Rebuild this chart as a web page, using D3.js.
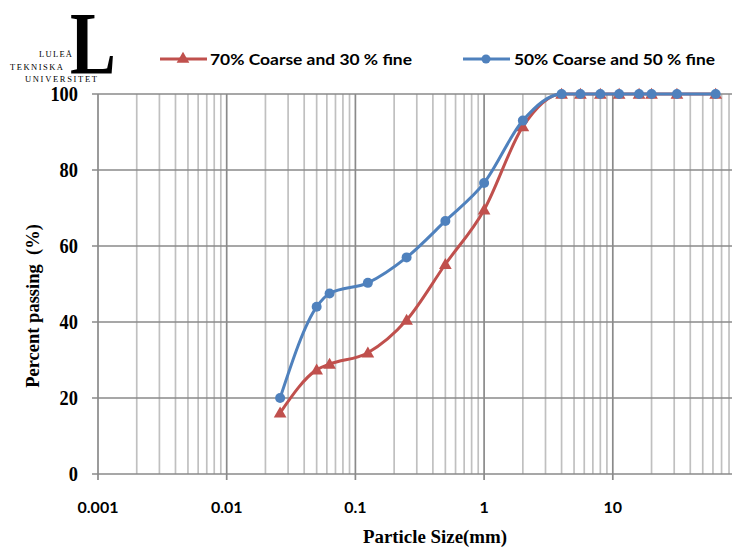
<!DOCTYPE html>
<html>
<head>
<meta charset="utf-8">
<script src="https://cdn.jsdelivr.net/npm/d3@7"></script>
<style>
  body { margin: 0; background: #fff; }
  svg { display: block; }
</style>
</head>
<body>
<script>
// sieve sizes (mm) and percent passing for the two blends
var sizes = [0.026, 0.05, 0.063, 0.125, 0.25, 0.5, 1, 2, 4, 5.6, 8, 11.2, 16, 20, 31.5, 63];
var coarse70 = [16.1, 27.4, 28.9, 31.9, 40.5, 55.2, 69.5, 91.4, 100, 100, 100, 100, 100, 100, 100, 100];
var coarse50 = [20, 44, 47.5, 50.3, 57.0, 66.6, 76.6, 93.0, 100, 100, 100, 100, 100, 100, 100, 100];
var seriesNames = ["70% Coarse and 30 % fine", "50% Coarse and 50 % fine"];
var xTicks = [0.001, 0.01, 0.1, 1, 10];
var xTickLabels = ["0.001", "0.01", "0.1", "1", "10"];
var yTicks = [0, 20, 40, 60, 80, 100];

var W = 732, H = 547;
var red = "#C0504D", blue = "#4F81BD";

var svg = d3.select("body").append("svg")
    .attr("width", W)
    .attr("height", H);

var x = d3.scaleLog().domain([0.001, 100]).range([98, 741.5]);
var y = d3.scaleLinear().domain([0, 100]).range([474, 94]);

//minor grid lines, 2..9 within each decade
var minor = [];
for (var d = 0.001; d < 100; d *= 10)
    for (var m = 2; m <= 9; m++)
        minor.push(+(d * m).toPrecision(3));

var grid = svg.append("g");
grid.selectAll("line.minor")
    .data(minor)
    .enter().append("line")
    .attr("x1", function(v){return x(v);})
    .attr("x2", function(v){return x(v);})
    .attr("y1", y(100))
    .attr("y2", y(0))
    .style("stroke", "#c0c0c0")
    .style("stroke-width", 1.7);

grid.selectAll("line.major")
    .data(xTicks)
    .enter().append("line")
    .attr("x1", function(v){return x(v);})
    .attr("x2", function(v){return x(v);})
    .attr("y1", y(100))
    .attr("y2", y(0) + 6)
    .style("stroke", "#8a8a8a")
    .style("stroke-width", 1.7);

grid.selectAll("line.h")
    .data(yTicks)
    .enter().append("line")
    .attr("x1", x(0.001) - 6)
    .attr("x2", W)
    .attr("y1", function(v){return y(v);})
    .attr("y2", function(v){return y(v);})
    .style("stroke", "#8a8a8a")
    .style("stroke-width", 1.7);

//y tick labels
svg.selectAll("text.ylab")
    .data(yTicks)
    .enter().append("text")
    .attr("x", 78)
    .attr("y", function(v){return y(v);})
    .attr("dy", "0.35em")
    .attr("text-anchor", "end")
    .style("font-family", "'Liberation Serif', serif")
    .style("font-weight", "bold")
    .style("font-size", "20px")
    .attr("transform", function(v){return "translate(78," + y(v) + ") scale(0.92,1) translate(-78," + (-y(v)) + ")";})
    .text(function(v){return v;});

//x tick labels
svg.selectAll("text.xlab")
    .data(xTicks)
    .enter().append("text")
    .attr("x", function(v){return x(v);})
    .attr("y", 513)
    .attr("text-anchor", "middle")
    .style("font-family", "Lato, sans-serif")
    .style("font-weight", "bold")
    .style("font-size", "16px")
    .text(function(v, i){return xTickLabels[i];});

//axis titles
svg.append("text")
    .attr("x", 435)
    .attr("y", 543)
    .attr("text-anchor", "middle")
    .style("font-family", "'Liberation Serif', serif")
    .style("font-weight", "bold")
    .style("font-size", "18.5px")
    .attr("textLength", 144)
    .attr("lengthAdjust", "spacingAndGlyphs")
    .text("Particle Size(mm)");

svg.append("text")
    .attr("transform", "translate(39,306) rotate(-90)")
    .attr("text-anchor", "middle")
    .style("font-family", "'Liberation Serif', serif")
    .style("font-weight", "bold")
    .style("font-size", "18.5px")
    .style("white-space", "pre")
    .text("Percent passing  (%)");

//series lines
var line = d3.line()
    .x(function(d){return x(d[0]);})
    .y(function(d){return y(d[1]);})
    .curve(d3.curveMonotoneX);

var redPts = sizes.map(function(s, i){return [s, coarse70[i]];});
var bluePts = sizes.map(function(s, i){return [s, coarse50[i]];});

var tri = d3.symbol().type(d3.symbolTriangle).size(70);

svg.append("path")
    .attr("d", line(redPts))
    .style("fill", "none")
    .style("stroke", red)
    .style("stroke-width", 3);

svg.selectAll("path.tri")
    .data(redPts)
    .enter().append("path")
    .attr("d", tri)
    .attr("transform", function(d){return "translate(" + x(d[0]) + "," + (y(d[1]) + 1) + ")";})
    .style("fill", red);

svg.append("path")
    .attr("d", line(bluePts))
    .style("fill", "none")
    .style("stroke", blue)
    .style("stroke-width", 3);

svg.selectAll("circle.dot")
    .data(bluePts)
    .enter().append("circle")
    .attr("cx", function(d){return x(d[0]);})
    .attr("cy", function(d){return y(d[1]);})
    .attr("r", 5)
    .style("fill", blue);

//legend
var leg = svg.append("g");
leg.append("line").attr("x1", 160).attr("x2", 207).attr("y1", 59).attr("y2", 59)
    .style("stroke", red).style("stroke-width", 3);
leg.append("path").attr("d", tri).attr("transform", "translate(183,59)").style("fill", red);
leg.append("text").attr("x", 210).attr("y", 65)
    .style("font-family", "Lato, sans-serif").style("font-weight", "bold").style("font-size", "16px")
    .attr("textLength", 202).attr("lengthAdjust", "spacingAndGlyphs")
    .text(seriesNames[0]);

leg.append("line").attr("x1", 463).attr("x2", 510).attr("y1", 59).attr("y2", 59)
    .style("stroke", blue).style("stroke-width", 3);
leg.append("circle").attr("cx", 486).attr("cy", 59).attr("r", 4.5).style("fill", blue);
leg.append("text").attr("x", 514).attr("y", 65)
    .style("font-family", "Lato, sans-serif").style("font-weight", "bold").style("font-size", "16px")
    .attr("textLength", 201).attr("lengthAdjust", "spacingAndGlyphs")
    .text(seriesNames[1]);

//university logo
var logo = svg.append("g");
logo.append("text")
    .attr("transform", "translate(70,73) scale(0.78,1)")
    .style("font-family", "'Liberation Serif', serif")
    .style("font-weight", "bold")
    .style("font-size", "88px")
    .text("L");
var logoLines = [["LULEÅ", 39, 57, 33], ["TEKNISKA", 10, 70, 53], ["UNIVERSITET", 25, 82, 72]];
logo.selectAll("text.lt")
    .data(logoLines)
    .enter().append("text")
    .attr("x", function(d){return d[1];})
    .attr("y", function(d){return d[2];})
    .attr("textLength", function(d){return d[3];})
    .attr("lengthAdjust", "spacing")
    .style("font-family", "'Liberation Serif', serif")
    .style("font-size", "8.5px")
    .text(function(d){return d[0];});
</script>
</body>
</html>
